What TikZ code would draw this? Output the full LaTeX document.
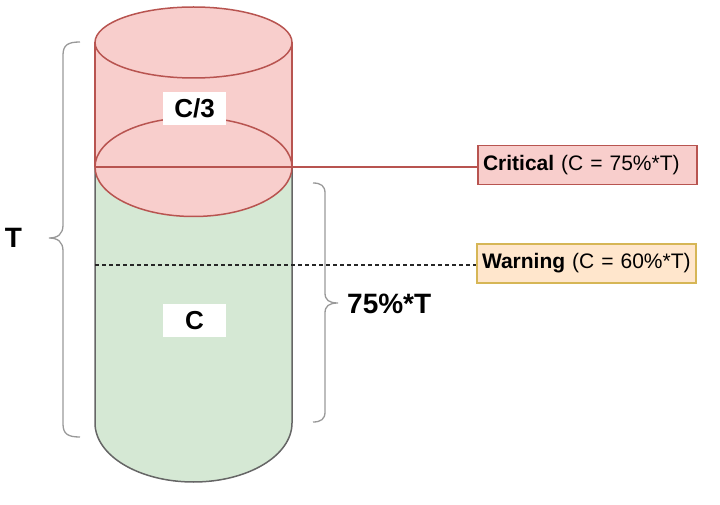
\documentclass[tikz,border=0pt]{standalone}
\usepackage{fontspec}
\setmainfont{Liberation Sans}
\definecolor{redfill}{HTML}{F8CECC}
\definecolor{redline}{HTML}{B85450}
\definecolor{greenfill}{HTML}{D5E8D4}
\definecolor{greenline}{HTML}{666666}
\definecolor{warnfill}{HTML}{FFE6CC}
\definecolor{warnline}{HTML}{D6B656}
\definecolor{bracecol}{HTML}{999999}
\begin{document}
\begin{tikzpicture}[x=1pt,y=-1pt,
  redstroke/.style={draw=redline,line width=1.5pt},
  labelbox/.style={fill=white,minimum width=63pt,minimum height=33pt,inner sep=0pt,font=\fontsize{26}{30}\selectfont\bfseries},
  levelbox/.style={rectangle,line width=1.2pt,minimum width=219pt,minimum height=39pt,inner xsep=5pt,inner ysep=0pt,text width=209pt,align=left,font=\fontsize{21}{25}\selectfont},
  bracestyle/.style={draw=bracecol,line width=1.3pt},
  bigtext/.style={inner sep=0pt,font=\fontsize{28}{32}\selectfont\bfseries}]
\useasboundingbox (0,0) rectangle (720,505);
% green body
\draw[fill=greenfill,draw=greenline,line width=1.5pt]
  (95,167) -- (95,423) arc[start angle=180,end angle=0,x radius=98.5,y radius=59] -- (292,167) -- cycle;
% red top section fill
\fill[redfill] (95,42.5) arc[start angle=180,end angle=360,x radius=98.5,y radius=35.5]
  -- (292,167) arc[start angle=0,end angle=180,x radius=98.5,y radius=49.5] -- cycle;
\draw[redstroke] (193.5,42.5) ellipse[x radius=98.5,y radius=35.5];
\draw[redstroke] (193.5,167) ellipse[x radius=98.5,y radius=49.5];
\draw[redstroke] (95,42.5) -- (95,167);
\draw[redstroke] (292,42.5) -- (292,167);
% labels
\node[labelbox] (c3) at (194.5,108.5) {C/3};
\node[labelbox] (c) at (194.5,320.5) {C};
% level boxes
\node[levelbox,fill=redfill,draw=redline] (crit) at (587.5,165) {\textbf{Critical} (C = 75\%*T)};
\node[levelbox,fill=warnfill,draw=warnline] (warn) at (586.5,263.5) {\textbf{Warning} (C = 60\%*T)};
% lines
\coordinate (redL) at (95,167);
\coordinate (dashL) at (95,265);
\draw[draw=redline,line width=1.2pt] (redL) -- (redL -| crit.west);
\draw[draw=black!85,line width=1.2pt,dash pattern=on 4pt off 3pt] (dashL) -- (dashL -| warn.west);
% braces
\draw[bracestyle] (80,42) .. controls (68,42) and (63,45) .. (63,55) -- (63,225)
  .. controls (63,234) and (58,238) .. (49,238) .. controls (58,238) and (63,242) .. (63,251)
  -- (63,424) .. controls (63,434) and (68,437) .. (80,437);
\draw[bracestyle] (313,183) .. controls (321,183) and (325,186) .. (325,193) -- (325,293)
  .. controls (325,300) and (329,303) .. (338,303) .. controls (329,303) and (325,306) .. (325,313)
  -- (325,412) .. controls (325,419) and (321,422) .. (313,422);
\node[bigtext] (tlabel) at (13.5,238) {T};
\node[bigtext,anchor=west] (plabel) at (347,304) {75\%*T};
\end{tikzpicture}
\end{document}
